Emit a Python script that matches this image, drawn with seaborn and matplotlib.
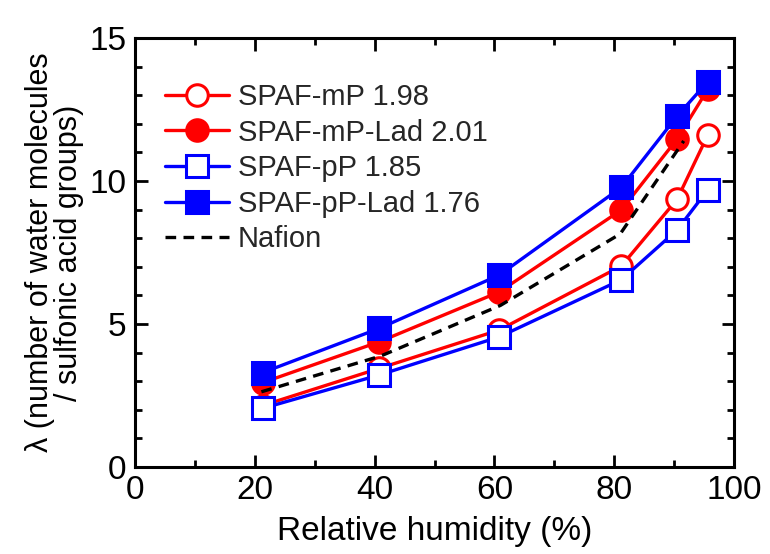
import matplotlib
matplotlib.use("Agg")
import matplotlib.pyplot as plt
import seaborn as sns
import pandas as pd
from matplotlib.ticker import MultipleLocator

# Data
rh = [21.3, 40.8, 60.8, 81.2, 90.5, 95.6]
spaf_mp = [2.15, 3.45, 4.79, 7.03, 9.36, 11.6]
spaf_mp_lad = [2.95, 4.38, 6.12, 8.99, 11.47, 13.2]
spaf_pp = [2.05, 3.22, 4.55, 6.55, 8.29, 9.69]
spaf_pp_lad = [3.3, 4.85, 6.71, 9.78, 12.27, 13.47]
nafion_rh = [21.1, 41.0, 61.0, 81.0, 91.6]
nafion = [2.63, 3.88, 5.65, 8.15, 11.4]

labels = ["SPAF-mP 1.98", "SPAF-mP-Lad 2.01", "SPAF-pP 1.85", "SPAF-pP-Lad 1.76", "Nafion"]

sns.set_theme(style="white")
plt.rcParams['font.family'] = ['Liberation Sans', 'DejaVu Sans']

fig = plt.figure(figsize=(7.7, 5.54), dpi=100)
ax = fig.add_axes([0.1753, 0.157, 0.778, 0.7744])

red = "#ff0000"
blue = "#0000ff"

series = [
    (spaf_mp, labels[0], red, "o", "white"),
    (spaf_mp_lad, labels[1], red, "o", red),
    (spaf_pp, labels[2], blue, "s", "white"),
    (spaf_pp_lad, labels[3], blue, "s", blue),
]
for vals, lab, col, mk, fc in series:
    df = pd.DataFrame({"rh": rh, "lam": vals})
    sns.lineplot(data=df, x="rh", y="lam", ax=ax, color=col, marker=mk,
                 markersize=15.5, markerfacecolor=fc, markeredgecolor=col,
                 markeredgewidth=2.2, linewidth=2.4, label=lab)

dfn = pd.DataFrame({"rh": nafion_rh, "lam": nafion})
sns.lineplot(data=dfn, x="rh", y="lam", ax=ax, color="black", linestyle=(0, (3.2, 2.2)),
             linewidth=2.4, label=labels[4])

ax.set_xlim(0, 100)
ax.set_ylim(0, 15)
ax.xaxis.set_major_locator(MultipleLocator(20))
ax.xaxis.set_minor_locator(MultipleLocator(10))
ax.yaxis.set_major_locator(MultipleLocator(5))
ax.yaxis.set_minor_locator(MultipleLocator(1))
ax.tick_params(which="both", direction="in", top=True, right=True, bottom=True, left=True,
               colors="black", width=2.0)
ax.tick_params(which="major", length=9, labelsize=24, pad=6)
ax.tick_params(which="minor", length=5)
for s in ax.spines.values():
    s.set_color("black")
    s.set_linewidth(2.2)

ax.set_xlabel("Relative humidity (%)", fontsize=24, labelpad=7, color="black")
ax.set_ylabel("λ (number of water molecules\n/ sulfonic acid groups)", fontsize=22,
              color="black", linespacing=0.95)
ax.yaxis.set_label_coords(-0.085, 0.5)
for t in ax.get_xticklabels() + ax.get_yticklabels():
    t.set_color("black")

leg = ax.legend(loc="upper left", bbox_to_anchor=(0.05, 0.895), frameon=False, fontsize=21,
                handlelength=2.2, handletextpad=0.3, labelspacing=0.26,
                borderaxespad=0.0, borderpad=0.0)

fig.savefig("out.png", dpi=100)
